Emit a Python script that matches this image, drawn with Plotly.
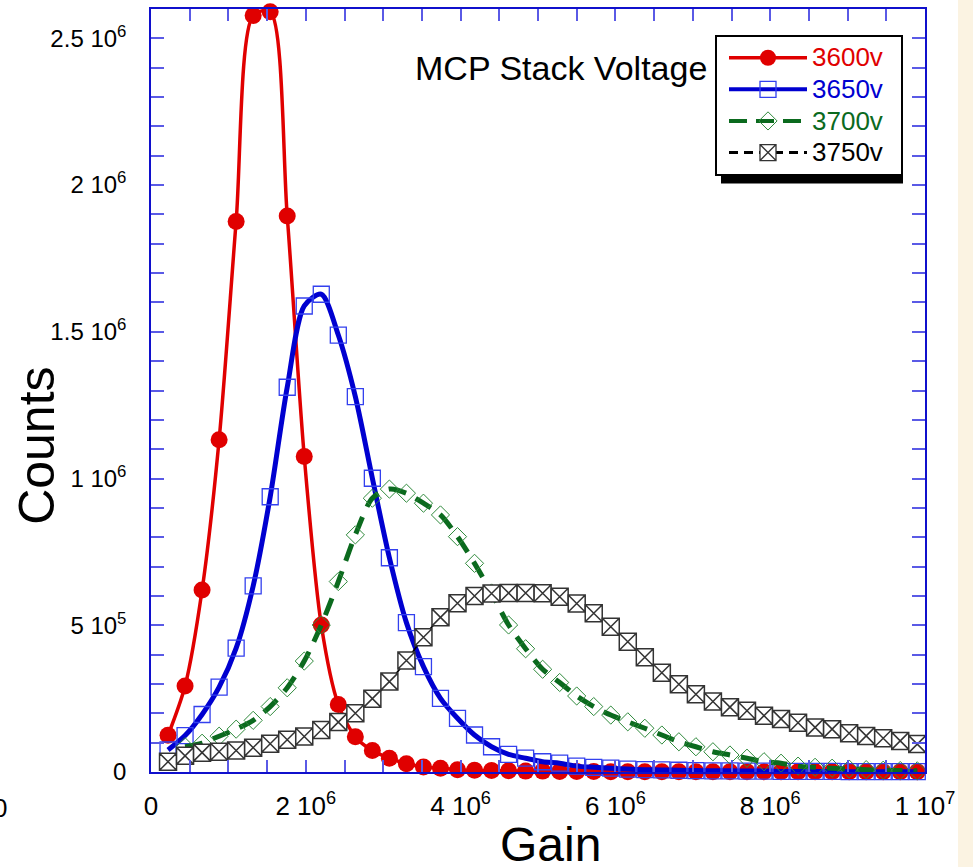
import plotly.graph_objects as go

# ---------------- data ----------------
# Gain values in units of 1e6
gain_e6 = [0.22, 0.44, 0.66, 0.88, 1.10, 1.32, 1.54, 1.76, 1.98, 2.20,
           2.42, 2.64, 2.86, 3.08, 3.30, 3.52, 3.74, 3.96, 4.18, 4.40,
           4.62, 4.84, 5.06, 5.28, 5.50, 5.72, 5.94, 6.16, 6.38, 6.60,
           6.82, 7.04, 7.26, 7.48, 7.70, 7.92, 8.14, 8.36, 8.58, 8.80,
           9.02, 9.24, 9.46, 9.68, 9.90]

# Counts in units of 1e5
counts_3600 = [1.25, 2.93, 6.20, 11.32, 18.76, 25.78, 25.91, 18.95, 10.75, 5.01,
               2.30, 1.20, 0.73, 0.47, 0.28, 0.17, 0.13, 0.08, 0.06, 0.05,
               0.04, 0.03, 0.03, 0.02, 0.02, 0.02, 0.01, 0.01, 0.01, 0.01,
               0.01, 0.01, 0.01, 0.01, 0.01, 0.01, 0.01, 0.01, 0.01, 0.01,
               0.01, 0.01, 0.01, 0.01, 0.01]
counts_3650 = [0.75, 1.24, 1.96, 2.89, 4.22, 6.34, 9.38, 13.11, 15.88, 16.28,
               14.89, 12.79, 10.01, 7.30, 5.09, 3.59, 2.51, 1.83, 1.26, 0.86,
               0.60, 0.47, 0.35, 0.30, 0.20, 0.16, 0.13, 0.10, 0.08, 0.07,
               0.06, 0.05, 0.04, 0.04, 0.03, 0.03, 0.02, 0.02, 0.02, 0.02,
               0.01, 0.01, 0.01, 0.01, 0.01]
counts_3700 = [None, 0.86, 0.98, 1.22, 1.46, 1.76, 2.23, 2.87, 3.78, 5.01,
               6.49, 8.08, 9.33, 9.64, 9.50, 9.16, 8.76, 8.02, 7.11, 6.10,
               5.01, 4.20, 3.50, 3.05, 2.59, 2.23, 1.94, 1.71, 1.49, 1.26,
               1.03, 0.86, 0.69, 0.58, 0.47, 0.35, 0.30, 0.20, 0.16, 0.13,
               0.10, 0.08, 0.06, 0.05, 0.04]
counts_3750 = [0.35, 0.55, 0.66, 0.69, 0.73, 0.83, 0.96, 1.10, 1.21, 1.43,
               1.70, 2.00, 2.50, 3.08, 3.80, 4.59, 5.27, 5.75, 6.00, 6.08,
               6.10, 6.10, 6.09, 5.97, 5.74, 5.41, 4.95, 4.44, 3.91, 3.38,
               2.99, 2.65, 2.40, 2.21, 2.09, 1.92, 1.81, 1.68, 1.52, 1.46,
               1.32, 1.23, 1.15, 1.06, 0.95]

series_names = ["3600v", "3650v", "3700v", "3750v"]

x_tick_vals = [0, 2e6, 4e6, 6e6, 8e6, 1e7]
x_tick_text = ["0", "2 10<sup>6</sup>", "4 10<sup>6</sup>", "6 10<sup>6</sup>",
               "8 10<sup>6</sup>", "1 10<sup>7</sup>"]
y_tick_vals = [0, 5e5, 1e6, 1.5e6, 2e6, 2.5e6]
y_tick_text = ["0", "5 10<sup>5</sup>", "1 10<sup>6</sup>", "1.5 10<sup>6</sup>",
               "2 10<sup>6</sup>", "2.5 10<sup>6</sup>"]

# ---------------- styling ----------------
FONT = "Liberation Sans, Arial, Helvetica, sans-serif"
RED = "#e00000"
BLUE = "#0000d0"
BLUE_MK = "#3340ee"
GREEN = "#0b6a1e"
GREEN_MK = "#2f8a3c"
BLACK = "#000000"
AXIS_BLUE = "#1010cc"
TICK_BLUE = "#5a5ae6"

x = [g * 1e6 for g in gain_e6]
def scale(v):
    return [None if c is None else c * 1e5 for c in v]

fig = go.Figure()

# data traces (no legend)
fig.add_trace(go.Scatter(
    x=x, y=scale(counts_3600), mode="lines+markers", showlegend=False,
    line=dict(color=RED, width=3.5, shape="spline", smoothing=0.8),
    marker=dict(symbol="circle", size=17, color=RED), cliponaxis=False))
fig.add_trace(go.Scatter(
    x=x, y=scale(counts_3650), mode="lines+markers", showlegend=False,
    line=dict(color=BLUE, width=5, shape="spline", smoothing=0.8),
    marker=dict(symbol="square-open", size=16, color=BLUE_MK, line=dict(width=1.3)),
    cliponaxis=False))
fig.add_trace(go.Scatter(
    x=x, y=scale(counts_3700), mode="lines+markers", showlegend=False,
    line=dict(color=GREEN, width=5, shape="spline", smoothing=0.8, dash="18px,11px"),
    marker=dict(symbol="diamond-open", size=14, color=GREEN_MK, line=dict(width=1)),
    cliponaxis=False))
fig.add_trace(go.Scatter(
    x=x, y=scale(counts_3750), mode="lines+markers", showlegend=False,
    line=dict(color=BLACK, width=1.8, shape="spline", smoothing=0.8),
    marker=dict(symbol="square-x", size=17, color="white",
                line=dict(color="#333333", width=1.5)),
    cliponaxis=False))

# legend entries
legend_specs = [
    (series_names[0], RED, dict(color=RED, width=3.5), dict(symbol="circle", size=16, color=RED)),
    (series_names[1], BLUE, dict(color=BLUE, width=4), dict(symbol="square-open", size=16, color=BLUE_MK, line=dict(width=1.3))),
    (series_names[2], GREEN, dict(color=GREEN, width=4, dash="18px,9px"), dict(symbol="diamond-open", size=14, color=GREEN_MK, line=dict(width=1))),
    (series_names[3], BLACK, dict(color=BLACK, width=3, dash="9px,6px"), dict(symbol="square-x", size=16, color="white", line=dict(color="#333333", width=1.3))),
]
for name, col, ln, mk in legend_specs:
    fig.add_trace(go.Scatter(
        x=[None], y=[None], mode="lines+markers",
        name=f"<span style='color:{col};font-size:26px'>{name}</span>\u00a0\u00a0",
        line=ln, marker=mk))

axis_common = dict(
    showline=True, linecolor=AXIS_BLUE, linewidth=1.5, mirror="allticks",
    ticks="inside", tickcolor=TICK_BLUE, tickwidth=1.5,
    showgrid=False, zeroline=False,
)

fig.update_xaxes(
    range=[0, 1e7], tickvals=x_tick_vals, ticktext=x_tick_text, ticklen=12,
    minor=dict(dtick=5e5, ticklen=12, tickcolor=TICK_BLUE, tickwidth=1.5, ticks="inside", showgrid=False),
    tickfont=dict(family=FONT, size=26, color="black"),
    ticklabelstandoff=10, **axis_common)
fig.update_yaxes(
    range=[0, 2.6e6], tickvals=y_tick_vals, ticktext=y_tick_text, ticklen=13,
    minor=dict(dtick=1e5, ticklen=13, tickcolor=TICK_BLUE, tickwidth=1.5, ticks="inside", showgrid=False),
    tickfont=dict(family=FONT, size=24, color="black"),
    ticklabelstandoff=18, **axis_common)

L, R, T, B = 151, 48, 7, 95
W, H = 973, 867
pw, ph = W - L - R, H - T - B
def px(xp):
    return (xp - L) / pw
def py(yp):
    return (H - B - yp) / ph

fig.update_layout(
    width=W, height=H,
    margin=dict(l=L, r=R, t=T, b=B),
    paper_bgcolor="white", plot_bgcolor="white",
    font=dict(family=FONT, color="black"),
    legend=dict(
        x=px(715), y=py(33), xanchor="left", yanchor="top",
        bgcolor="white", bordercolor="black", borderwidth=2,
        font=dict(family=FONT, size=22), itemwidth=78,
        tracegroupgap=0, indentation=7,
    ),
    shapes=[
        # legend drop shadow
        dict(type="rect", xref="paper", yref="paper",
             x0=px(721), x1=px(903), y0=py(182), y1=py(39),
             fillcolor="black", line=dict(width=0), layer="above"),
        # pale strip on the right edge of the page
        dict(type="rect", xref="paper", yref="paper",
             x0=px(958), x1=px(990), y0=py(880), y1=py(-20),
             fillcolor="#fbf3e2", line=dict(width=0), layer="below"),
    ],
    annotations=[
        dict(text="MCP Stack Voltage", xref="paper", yref="paper",
             x=px(413), y=py(66), xanchor="left", yanchor="middle",
             showarrow=False, font=dict(family=FONT, size=34, color="black")),
        dict(text="Counts", xref="paper", yref="paper",
             x=px(37), y=py(445), xanchor="center", yanchor="middle", textangle=-90,
             showarrow=False, font=dict(family=FONT, size=50, color="black")),
        dict(text="Gain", xref="paper", yref="paper",
             x=px(550), y=py(845), xanchor="center", yanchor="middle",
             showarrow=False, font=dict(family=FONT, size=48, color="black")),
        dict(text="0", xref="paper", yref="paper",
             x=px(0), y=py(808), xanchor="center", yanchor="middle",
             showarrow=False, font=dict(family=FONT, size=26, color="black")),
    ],
)

fig.write_html("out.html", config={"displayModeBar": False},
               post_script="document.body.style.margin='0';")
